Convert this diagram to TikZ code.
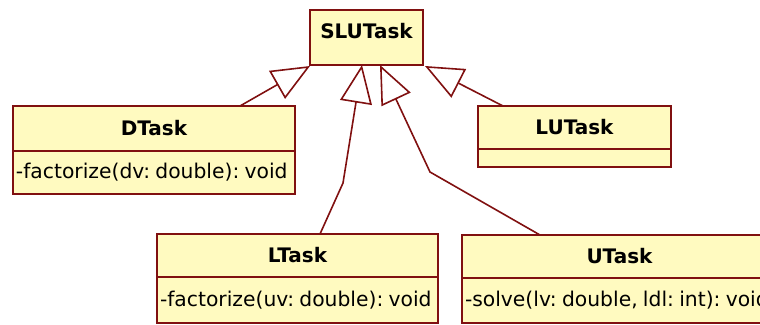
\documentclass[tikz,border=0pt]{standalone}
\usepackage{fontspec}
\setmainfont{DejaVu Sans}
\usetikzlibrary{arrows.meta}
\definecolor{umlfill}{RGB}{255,250,192}
\definecolor{umlborder}{RGB}{128,16,16}
\tikzset{
  clsbox/.style={draw=umlborder, fill=umlfill, line width=1.8pt, inner sep=0pt,
    outer sep=0pt, anchor=north west, font=\fontsize{20}{24}\selectfont\bfseries},
  opbox/.style={draw=umlborder, fill=umlfill, line width=1.8pt, inner ysep=0pt,
    inner xsep=3pt, outer sep=0pt, anchor=north west, align=left,
    font=\fontsize{20.3}{24}\selectfont,
    execute at begin node={\frenchspacing\spaceskip=0.26em\relax}},
  gen/.style={draw=umlborder, line width=1.6pt,
    -{Triangle[open, length=38pt, width=32pt, fill=white]}}
}
\begin{document}
\begin{tikzpicture}[x=1pt, y=-1pt]
\useasboundingbox (0,0) rectangle (760,324);
\clip (0,0) rectangle (760,324);
% SLUTask
\node[clsbox, minimum width=113pt, minimum height=55pt, text depth=13pt] (slu) at (310,10) {SLUTask};
% DTask
\node[clsbox, minimum width=282pt, minimum height=45pt] (dtask) at (13,106) {DTask};
\node[opbox, text width=276pt, minimum height=43pt] (dtaskm) at (dtask.south west) {\mbox{-factorize(dv: double): void}};
% LUTask
\node[clsbox, minimum width=193pt, minimum height=43pt] (lutask) at (478,106) {LUTask};
\node[opbox, text width=187pt, minimum height=18pt] (lutaskm) at (lutask.south west) {};
% LTask
\node[clsbox, minimum width=281pt, minimum height=43pt] (ltask) at (157,234) {LTask};
\node[opbox, text width=275pt, minimum height=46pt] (ltaskm) at (ltask.south west) {\mbox{-factorize(uv: double): void}};
% UTask
\node[clsbox, minimum width=315pt, minimum height=43pt] (utask) at (462,235) {UTask};
\node[opbox, text width=309pt, minimum height=45pt] (utaskm) at (utask.south west) {\mbox{-solve(lv: double, ldl: int): void}};
% bends
\coordinate (lbend) at (343,183);
\coordinate (ubend) at (430,172);
% generalizations
\draw[gen] ([xshift=227pt]dtask.north west) -- ([yshift=-1pt]slu.south west);
\draw[gen] ([xshift=163pt]ltask.north west) -- (lbend) -- ([xshift=52pt]slu.south west);
\draw[gen] ([xshift=78pt]utask.north west) -- (ubend) -- ([xshift=70pt]slu.south west);
\draw[gen] ([xshift=25pt]lutask.north west) -- ([xshift=2pt,yshift=-1pt]slu.south east);
\end{tikzpicture}
\end{document}
